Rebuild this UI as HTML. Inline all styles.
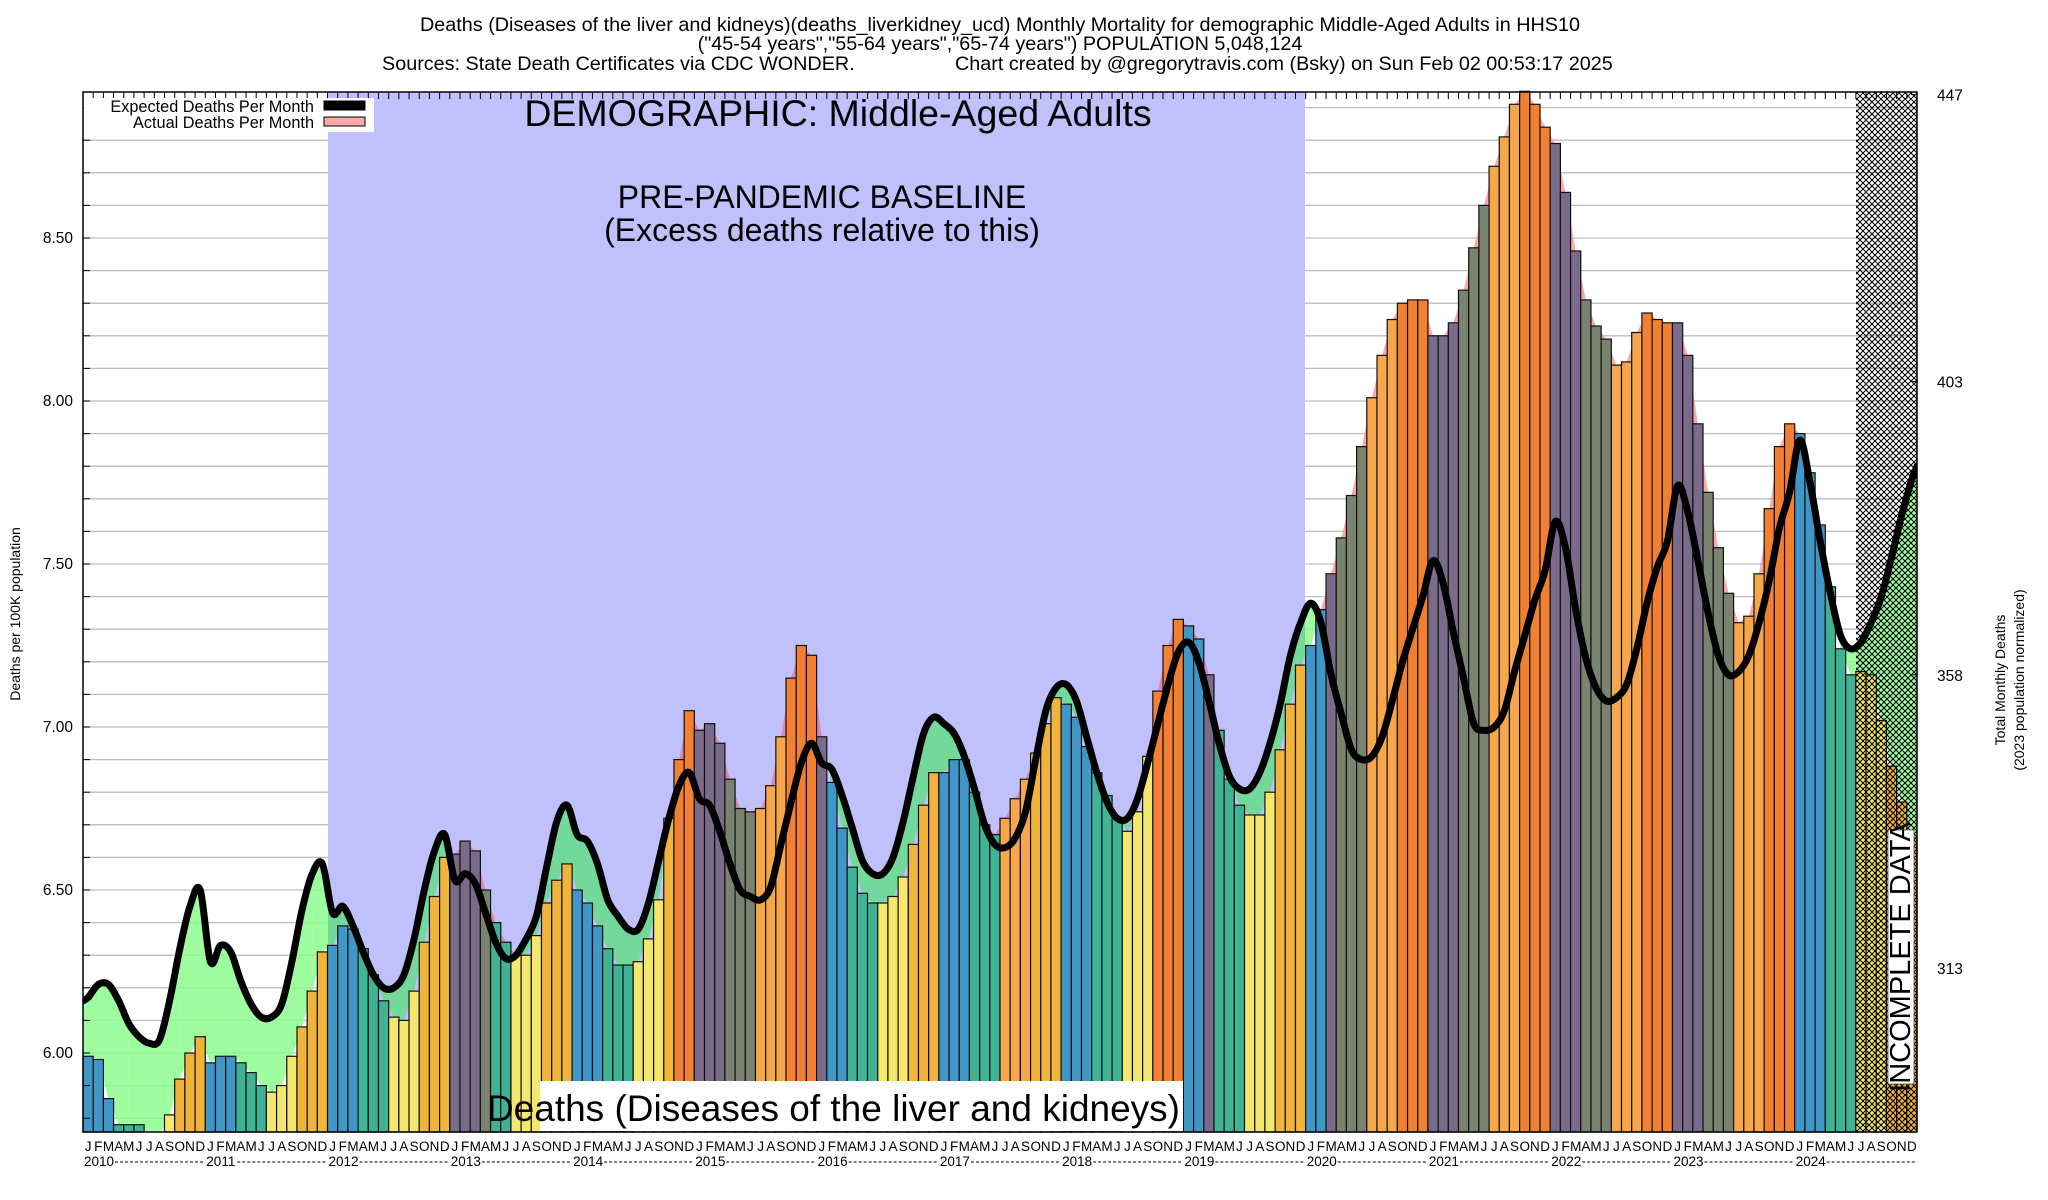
<!DOCTYPE html>
<html><head><meta charset="utf-8"><title>Liver and kidney disease deaths, middle-aged adults, HHS10</title>
<style>
html,body{margin:0;padding:0;background:#fff;}
svg{display:block;font-family:"Liberation Sans",sans-serif;}
</style></head>
<body>
<svg id="chart" width="2048" height="1200" viewBox="0 0 2048 1200" xmlns="http://www.w3.org/2000/svg">
<defs>
<pattern id="hatch" width="6" height="6" patternUnits="userSpaceOnUse">
<path d="M0,0 L6,6 M6,0 L0,6" stroke="#000" stroke-width="1"/>
</pattern>
<clipPath id="plotClip"><rect x="83" y="92" width="1834" height="1040"/></clipPath>
<clipPath id="bandClip"><rect x="328" y="92" width="977" height="1040"/></clipPath>
</defs>
<g id="titles">
<text x="1000" y="31" font-size="19.8" text-anchor="middle">Deaths (Diseases of the liver and kidneys)(deaths_liverkidney_ucd) Monthly Mortality for demographic Middle-Aged Adults in HHS10</text>
<text x="1000" y="50" font-size="19.8" text-anchor="middle">("45-54 years","55-64 years","65-74 years") POPULATION 5,048,124</text>
<text x="382" y="70" font-size="19.8">Sources: State Death Certificates via CDC WONDER.</text>
<text x="955" y="70" font-size="19.8">Chart created by @gregorytravis.com (Bsky) on Sun Feb 02 00:53:17 2025</text>
</g>
<g id="grid"></g>
<rect x="328" y="92" width="977" height="1040" fill="#c0c0fc"/>
<g id="fills" clip-path="url(#plotClip)"></g>
<g id="bars"></g>
<rect x="1856" y="92" width="61" height="1040" fill="url(#hatch)"/>
<g id="line" clip-path="url(#plotClip)"></g>
<g id="axes"></g>
<g>
<rect x="84" y="98" width="290" height="34" fill="#fff"/>
<text x="314" y="112" font-size="16.3" text-anchor="end">Expected Deaths Per Month</text>
<rect x="324" y="101" width="41" height="9" fill="#000" stroke="#000"/>
<text x="314" y="128" font-size="16.3" text-anchor="end">Actual Deaths Per Month</text>
<rect x="324" y="117" width="41" height="9" fill="#f8aaaa" stroke="#000"/>
</g>
<text x="838" y="126" font-size="37.5" text-anchor="middle">DEMOGRAPHIC: Middle-Aged Adults</text>
<text x="822" y="208" font-size="32" text-anchor="middle">PRE-PANDEMIC BASELINE</text>
<text x="822" y="241" font-size="32" text-anchor="middle">(Excess deaths relative to this)</text>
<rect x="540" y="1081" width="643" height="50" fill="#fff"/>
<text x="1180" y="1121" font-size="37" text-anchor="end">Deaths (Diseases of the liver and kidneys)</text>
<rect x="1888" y="830" width="26" height="254" fill="#fff" stroke="#555" stroke-width="0.8"/>
<text transform="translate(1910,957) rotate(-90)" font-size="29" text-anchor="middle">INCOMPLETE DATA</text>
<text transform="translate(20,614) rotate(-90)" font-size="14" text-anchor="middle">Deaths per 100K population</text>
<text transform="translate(2005,680) rotate(-90)" font-size="14" text-anchor="middle">Total Monthly Deaths</text>
<text transform="translate(2024,680) rotate(-90)" font-size="14" text-anchor="middle">(2023 population normalized)</text>
</svg>
<script>
const monthLetters = ["J","F","M","A","M","J","J","A","S","O","N","D"];
const years = [2010,2011,2012,2013,2014,2015,2016,2017,2018,2019,2020,2021,2022,2023,2024];
const leftTicks = [6.00,6.50,7.00,7.50,8.00,8.50];
const rightTicks = [313,358,403,447];
const actual = [
5.99,5.98,5.86,5.78,5.78,5.78,5.75,5.745,5.81,5.92,6.00,6.05,
5.97,5.99,5.99,5.97,5.94,5.90,5.88,5.90,5.99,6.08,6.19,6.31,
6.33,6.39,6.38,6.32,6.24,6.16,6.11,6.10,6.19,6.34,6.48,6.60,
6.61,6.65,6.62,6.50,6.40,6.34,6.30,6.30,6.36,6.46,6.53,6.58,
6.50,6.46,6.39,6.32,6.27,6.27,6.28,6.35,6.47,6.72,6.90,7.05,
6.99,7.01,6.95,6.84,6.75,6.74,6.75,6.82,6.97,7.15,7.25,7.22,
6.97,6.83,6.69,6.57,6.49,6.46,6.46,6.48,6.54,6.64,6.76,6.86,
6.86,6.90,6.90,6.80,6.70,6.67,6.72,6.78,6.84,6.92,7.01,7.09,
7.07,7.03,6.94,6.86,6.79,6.72,6.68,6.74,6.91,7.11,7.25,7.33,
7.31,7.27,7.16,6.99,6.84,6.76,6.73,6.73,6.80,6.93,7.07,7.19,
7.25,7.36,7.47,7.58,7.71,7.86,8.01,8.14,8.25,8.30,8.31,8.31,
8.20,8.20,8.24,8.34,8.47,8.60,8.72,8.81,8.91,8.95,8.91,8.84,
8.79,8.64,8.46,8.31,8.23,8.19,8.11,8.12,8.21,8.27,8.25,8.24,
8.24,8.14,7.93,7.72,7.55,7.41,7.32,7.34,7.47,7.67,7.86,7.93,
7.90,7.78,7.62,7.43,7.24,7.16,7.17,7.16,7.02,6.88,6.77,6.66];
const expected = [
6.17,6.21,6.21,6.16,6.09,6.05,6.03,6.04,6.16,6.32,6.45,6.50,
6.28,6.33,6.31,6.22,6.15,6.11,6.11,6.15,6.28,6.44,6.55,6.58,
6.43,6.45,6.39,6.31,6.24,6.20,6.20,6.24,6.35,6.50,6.62,6.67,
6.53,6.55,6.52,6.43,6.34,6.29,6.30,6.35,6.42,6.57,6.71,6.76,
6.67,6.65,6.58,6.47,6.42,6.38,6.38,6.46,6.59,6.72,6.82,6.86,
6.78,6.76,6.68,6.58,6.50,6.48,6.47,6.51,6.64,6.77,6.89,6.95,
6.89,6.87,6.79,6.69,6.59,6.55,6.55,6.60,6.71,6.85,6.98,7.03,
7.01,6.98,6.91,6.81,6.70,6.64,6.63,6.66,6.74,6.90,7.05,7.12,
7.13,7.08,6.97,6.86,6.77,6.72,6.72,6.78,6.89,7.01,7.13,7.23,
7.26,7.20,7.08,6.95,6.85,6.81,6.81,6.86,6.95,7.07,7.22,7.32,
7.38,7.32,7.16,7.04,6.93,6.90,6.91,6.97,7.08,7.20,7.30,7.40,
7.51,7.44,7.29,7.15,7.01,6.99,7.00,7.05,7.17,7.28,7.39,7.48,
7.63,7.55,7.36,7.21,7.12,7.08,7.09,7.13,7.24,7.38,7.49,7.57,
7.74,7.66,7.51,7.35,7.22,7.16,7.17,7.22,7.32,7.45,7.61,7.72,
7.88,7.75,7.57,7.41,7.28,7.24,7.26,7.32,7.40,7.52,7.65,7.76];

const NS = "http://www.w3.org/2000/svg";
const X0 = 83, X1 = 1917, YT = 92, YB = 1132;
const N = actual.length;
const BW = (X1 - X0) / N;
function xL(i){ return X0 + BW * i; }
function xC(i){ return X0 + BW * (i + 0.5); }
function yV(v){ return 1053 - (v - 6) * 326; }
function mk(tag, attrs, parent){
  const e = document.createElementNS(NS, tag);
  for (const k in attrs) e.setAttribute(k, attrs[k]);
  parent.appendChild(e);
  return e;
}
const gGrid = document.getElementById('grid');
for (let k = 58; k <= 89; k++){
  const v = k / 10, y = yV(v);
  if (y < YT || y > YB) continue;
  const l = mk('line', {x1:X0, x2:X1, y1:y, y2:y, stroke:'#bdbdbd', 'stroke-width':1.3}, gGrid);
  
  
}
const gF = document.getElementById('fills');
function fillPoly(pts, col, parent){
  const p = mk('polygon', {points: pts.map(q => q[0].toFixed(1)+','+q[1].toFixed(1)).join(' '), fill: col}, parent);
  
  
}
function buildFills(parent, green, pink){
  for (let i = 0; i < N - 1; i++){
    const xa = xC(i), xb = xC(i+1);
    const a0 = actual[i], a1 = actual[i+1], e0 = expected[i], e1 = expected[i+1];
    const d0 = a0 - e0, d1 = a1 - e1;
    if (d0 * d1 >= 0){
      fillPoly([[xa,yV(a0)],[xb,yV(a1)],[xb,yV(e1)],[xa,yV(e0)]], (d0 + d1) > 0 ? pink : green, parent);
    } else {
      const t = d0 / (d0 - d1);
      const xm = xa + t*(xb-xa), vm = a0 + t*(a1-a0);
      fillPoly([[xa,yV(a0)],[xm,yV(vm)],[xa,yV(e0)]], d0 > 0 ? pink : green, parent);
      fillPoly([[xm,yV(vm)],[xb,yV(a1)],[xb,yV(e1)]], d1 > 0 ? pink : green, parent);
    }
  }
  fillPoly([[X0,yV(actual[0])],[xC(0),yV(actual[0])],[xC(0),yV(expected[0])],[X0,yV(expected[0])]], green, parent);
  const eEnd = expected[N-1] + 0.04;
  fillPoly([[xC(N-1),yV(actual[N-1])],[X1,yV(actual[N-1])],[X1,yV(eEnd)],[xC(N-1),yV(expected[N-1])]], green, parent);
}
const gOut = mk('g', {}, gF);


buildFills(gOut, 'rgba(140,252,140,0.85)', 'rgba(248,150,150,0.8)');
const gIn = mk('g', {'clip-path':'url(#bandClip)'}, gF);


const bandBg = mk('rect', {x:328, y:92, width:977, height:1040, fill:'#c0c0fc'}, gIn);


buildFills(gIn, '#72d99a', 'rgba(220,120,150,0.75)');
const gB = document.getElementById('bars');
const normalCols = ['#4196c8','#3fb393','#f4e76e','#f0b43c'];
const excessCols = ['#7b6b8b','#7a8270','#f7a64c','#f28032'];
for (let i = 0; i < N; i++){
  const q = Math.floor((i % 12) / 3);
  const ex = actual[i] - expected[i] > 0.07;
  const col = ex ? excessCols[q] : normalCols[q];
  const y = yV(actual[i]);
  const r = mk('rect', {x: xL(i).toFixed(2), y: y.toFixed(1), width: BW.toFixed(2), height: Math.max(0, YB - y).toFixed(1), fill: col, stroke: '#111', 'stroke-width': 1.2}, gB);
  
  
}
const gL = document.getElementById('line');
const pts = [[X0, yV(expected[0] - 0.01)]];
for (let i = 0; i < N; i++) pts.push([xC(i), yV(expected[i])]);
pts.push([X1, yV(expected[N-1] + 0.04)]);
let d = 'M' + pts[0][0].toFixed(1) + ',' + pts[0][1].toFixed(1);
for (let i = 0; i < pts.length - 1; i++){
  const p0 = pts[Math.max(0,i-1)], p1 = pts[i], p2 = pts[i+1], p3 = pts[Math.min(pts.length-1,i+2)];
  const c1 = [p1[0] + (p2[0]-p0[0])/6, p1[1] + (p2[1]-p0[1])/6];
  const c2 = [p2[0] - (p3[0]-p1[0])/6, p2[1] - (p3[1]-p1[1])/6];
  d += ' C' + c1[0].toFixed(1)+','+c1[1].toFixed(1)+' '+c2[0].toFixed(1)+','+c2[1].toFixed(1)+' '+p2[0].toFixed(1)+','+p2[1].toFixed(1);
}
const path = mk('path', {d: d, fill:'none', stroke:'#000', 'stroke-width':7, 'stroke-linejoin':'round', 'stroke-linecap':'round'}, gL);


const gA = document.getElementById('axes');
const frame = mk('rect', {x:X0, y:YT, width:X1-X0, height:YB-YT, fill:'none', stroke:'#000', 'stroke-width':1.5}, gA);


for (let k = 58; k <= 89; k++){
  const y = yV(k/10);
  if (y < YT || y > YB) continue;
  const t = mk('line', {x1:X0, x2:X0+7, y1:y, y2:y, stroke:'#000', 'stroke-width':1}, gA);
  
  
}
for (const v of leftTicks){
  const y = yV(v);
  const t = mk('text', {x:73, y:(y+5).toFixed(1), 'font-size':15.5, 'text-anchor':'end'}, gA);
  t.textContent = v.toFixed(2);
  
  
}
for (const v of rightTicks){
  const y = yV(v / 50);
  const t = mk('text', {x:1937, y:(y+6).toFixed(1), 'font-size':15.5}, gA);
  t.textContent = String(v);
  
  
  const tk = mk('line', {x1:X1-6, x2:X1, y1:y, y2:y, stroke:'#000', 'stroke-width':1}, gA);
  
  
}
for (let i = 0; i <= N; i++){
  const tk = mk('line', {x1:xL(i), x2:xL(i), y1:YT, y2:YT+7, stroke:'#000', 'stroke-width':1}, gA);
  
  
}
for (let i = 0; i < N; i++){
  const t = mk('text', {x:xC(i).toFixed(1), y:1151, 'font-size':13.5, 'text-anchor':'middle'}, gA);
  t.textContent = monthLetters[i % 12];
  
  
}
years.forEach((yr, k) => {
  const x = xL(k * 12);
  const t = mk('text', {x:(x+1).toFixed(1), y:1166, 'font-size':13.5}, gA);
  t.textContent = String(yr);
  
  
  const xe = k < years.length - 1 ? xL((k+1)*12) - 1 : X1;
  const dl = mk('line', {x1:(x+32).toFixed(1), x2:xe.toFixed(1), y1:1162, y2:1162, stroke:'#000', 'stroke-width':1, 'stroke-dasharray':'3,2'}, gA);
  
  
});
</script>
</body></html>
